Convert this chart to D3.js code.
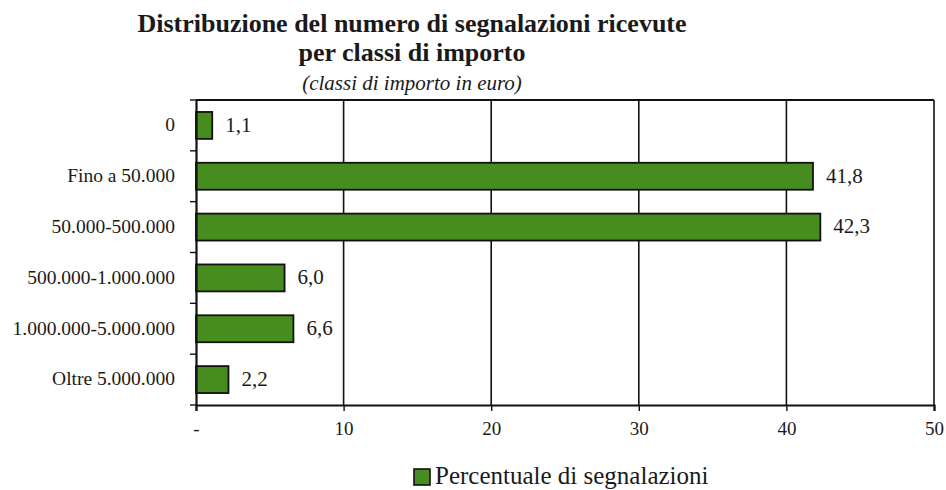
<!DOCTYPE html>
<html>
<head>
<meta charset="utf-8">
<script src="https://cdn.jsdelivr.net/npm/d3@7/dist/d3.min.js"></script>
<style>
  html, body { margin: 0; padding: 0; background: #fff; }
  svg { display: block; }
  text { font-family: "Liberation Serif", "DejaVu Serif", serif; fill: #1a1a1a; }
</style>
</head>
<body>
<svg id="chart" width="946" height="490"></svg>
<script>
// Classi di importo (euro) and share of reports received in each class (%)
const categories = [
  "0",
  "Fino a 50.000",
  "50.000-500.000",
  "500.000-1.000.000",
  "1.000.000-5.000.000",
  "Oltre 5.000.000"
];
const values = [1.1, 41.8, 42.3, 6.0, 6.6, 2.2];
const xTicks = [0, 10, 20, 30, 40, 50];
const seriesName = "Percentuale di segnalazioni";
const titleLines = ["Distribuzione del numero di segnalazioni ricevute", "per classi di importo"];
const subtitle = "(classi di importo in euro)";

const svg = d3.select("#chart");
const margin = { left: 196, right: 12, top: 100, bottom: 85 };
const W = 946, H = 490;
const iw = W - margin.left - margin.right;
const ih = H - margin.top - margin.bottom;
const barColor = "#478c1e";

const x = d3.scaleLinear().domain([0, 50]).range([0, iw]);
const y = d3.scaleBand().domain(categories).range([0, ih]).paddingInner(0.47).paddingOuter(0.235);

const fmt = v => v.toFixed(1).replace(".", ",");
const tickFmt = v => v === 0 ? "-" : String(v);

// Titles, centred over the plot
const titleX = 412;
svg.append("text")
  .attr("x", titleX).attr("y", 32)
  .attr("text-anchor", "middle")
  .attr("font-size", 26).attr("font-weight", "bold")
  .text(titleLines[0]);
svg.append("text")
  .attr("x", titleX).attr("y", 61)
  .attr("text-anchor", "middle")
  .attr("font-size", 26).attr("font-weight", "bold")
  .text(titleLines[1]);
svg.append("text")
  .attr("x", titleX).attr("y", 90)
  .attr("text-anchor", "middle")
  .attr("font-size", 21).attr("font-style", "italic")
  .text(subtitle);

const g = svg.append("g").attr("transform", `translate(${margin.left},${margin.top})`);

// Vertical grid lines
g.append("g")
  .selectAll("line")
  .data(xTicks.filter(t => t > 0))
  .join("line")
  .attr("x1", d => x(d)).attr("x2", d => x(d))
  .attr("y1", 0).attr("y2", ih)
  .attr("stroke", "#111").attr("stroke-width", 1.6);

// Top border of the plot area
g.append("line")
  .attr("x1", 0).attr("x2", iw).attr("y1", 0).attr("y2", 0)
  .attr("stroke", "#111").attr("stroke-width", 1.8);

// Bars
g.append("g")
  .selectAll("rect")
  .data(values)
  .join("rect")
  .attr("x", x(0))
  .attr("y", (d, i) => y(categories[i]))
  .attr("width", d => x(d) - x(0))
  .attr("height", y.bandwidth())
  .attr("fill", barColor)
  .attr("stroke", "#111")
  .attr("stroke-width", 1.8);

// Value labels
g.append("g")
  .selectAll("text")
  .data(values)
  .join("text")
  .attr("x", d => x(d) + 13)
  .attr("y", (d, i) => y(categories[i]) + y.bandwidth() / 2)
  .attr("dy", "0.3em")
  .attr("font-size", 21)
  .text(d => fmt(d));

// X axis
const xAxis = d3.axisBottom(x).tickValues(xTicks).tickFormat(tickFmt).tickSize(6).tickPadding(11);
const gx = g.append("g").attr("transform", `translate(0,${ih})`).call(xAxis);
gx.select(".domain").attr("stroke", "#111").attr("stroke-width", 2.2);
gx.selectAll(".tick line").attr("stroke", "#111").attr("stroke-width", 1.4);
gx.selectAll(".tick text").attr("font-size", 19).attr("font-family", "Liberation Serif, serif").attr("fill", "#1a1a1a");

// Y axis: category labels, ticks on band boundaries
const yAxis = d3.axisLeft(y).tickSize(0).tickPadding(21);
const gy = g.append("g").call(yAxis);
gy.select(".domain").attr("stroke", "#111").attr("stroke-width", 2.2);
gy.selectAll(".tick text").attr("font-size", 19.5).attr("dy", "0.3em").attr("font-family", "Liberation Serif, serif").attr("fill", "#1a1a1a");

const step = y.step();
g.append("g")
  .selectAll("line")
  .data(d3.range(categories.length + 1))
  .join("line")
  .attr("x1", -6).attr("x2", 0)
  .attr("y1", i => i * step).attr("y2", i => i * step)
  .attr("stroke", "#111").attr("stroke-width", 1.4);

// Legend
const legend = svg.append("g").attr("transform", "translate(414,469)");
legend.append("rect")
  .attr("x", 0).attr("y", 0).attr("width", 16).attr("height", 16)
  .attr("fill", barColor).attr("stroke", "#111").attr("stroke-width", 1.6);
legend.append("text")
  .attr("x", 21).attr("y", 15)
  .attr("font-size", 25)
  .text(seriesName);
</script>
</body>
</html>
